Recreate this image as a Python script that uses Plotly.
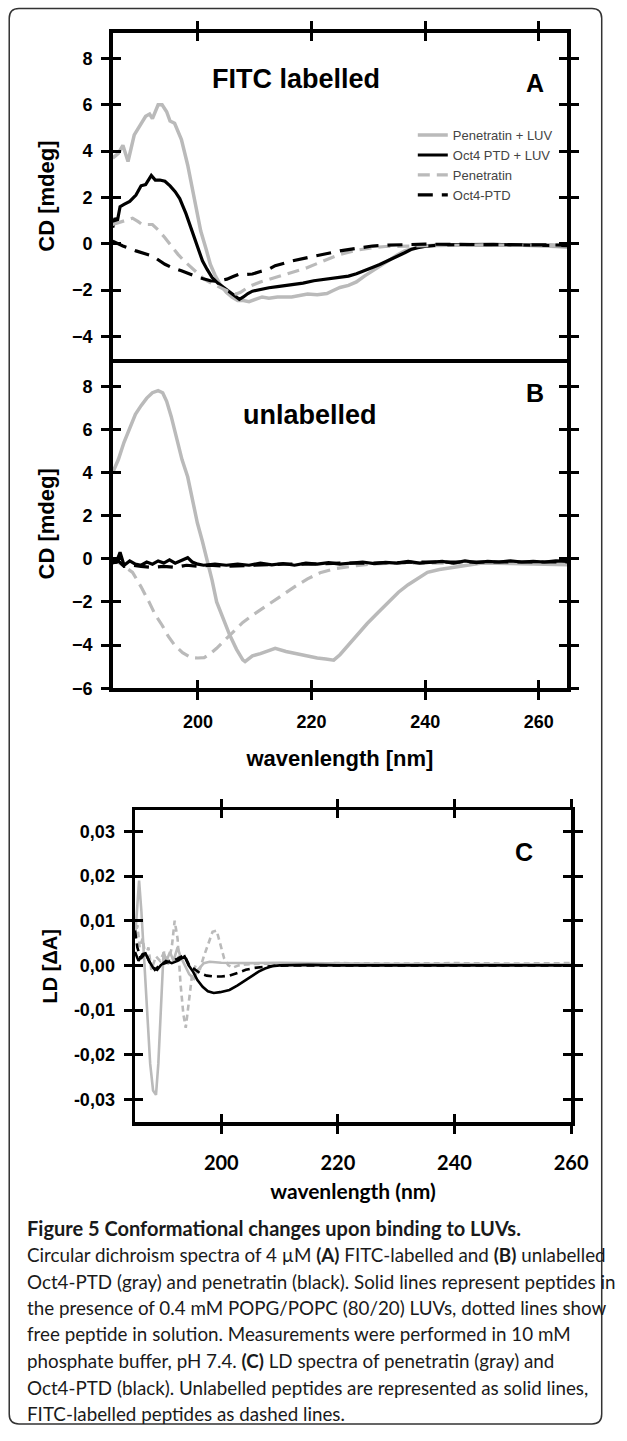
import plotly.graph_objects as go

# ---------------- data ----------------
# Panel A (FITC labelled) CD spectra
a_pen_luv_wl = [185, 186, 186.8, 187.7, 188.8, 189.8, 190.8, 191.5, 192, 193, 193.7, 194.5, 195.1, 195.9, 197.1, 198.2,
                199.4, 200.5, 201.4, 202.2, 203, 203.9, 205, 206, 207, 208, 209, 210, 211.3, 212.5, 214, 216.5, 218,
                219.3, 221, 222.7, 224, 225, 226.5, 227.9, 229.3, 230.7, 232, 233.5, 235, 236.4, 237.5, 238.7, 240,
                242, 245, 248, 252, 256, 260, 263, 265]
a_pen_luv_cd = [3.7, 3.9, 4.25, 3.55, 4.7, 5.1, 5.5, 5.6, 5.4, 6.0, 6.0, 5.7, 5.3, 5.2, 4.5, 3.4,
                2.0, 0.55, -0.2, -0.9, -1.35, -1.75, -2.1, -2.3, -2.45, -2.45, -2.5, -2.4, -2.3, -2.35, -2.3, -2.3, -2.25,
                -2.17, -2.2, -2.15, -2.0, -1.89, -1.8, -1.65, -1.4, -1.17, -0.95, -0.74, -0.5, -0.31, -0.22, -0.15, -0.1,
                -0.06, -0.05, -0.04, -0.05, -0.06, -0.08, -0.12, -0.15]

a_oct_luv_wl = [185, 185.4, 185.8, 186.3, 187, 188, 189.1, 190, 190.8, 191.8, 192.5, 193.3, 194.2, 195.1, 196, 196.8,
                197.9, 198.7, 199.4, 200.1, 200.8, 201.6, 202.5, 203.5, 204.5, 205.5, 206.5, 207.3, 208, 208.8, 209.6,
                210.5, 211.5, 212.5, 214, 215.5, 217, 218.5, 220.4, 222, 223.5, 225, 226.5, 227.9, 229.3, 230.7, 232,
                233.5, 235, 236.4, 237.5, 238.7, 240.4, 243, 247, 252, 256, 260, 265]
a_oct_luv_cd = [0.7, 1.1, 0.95, 1.6, 1.7, 1.83, 2.1, 2.5, 2.55, 2.95, 2.75, 2.75, 2.7, 2.5, 2.25, 1.95,
                1.3, 0.75, 0.26, -0.25, -0.74, -1.1, -1.46, -1.7, -1.89, -2.1, -2.25, -2.4, -2.3, -2.15, -2.05,
                -2.0, -1.95, -1.9, -1.85, -1.8, -1.75, -1.7, -1.6, -1.55, -1.5, -1.46, -1.4, -1.3, -1.15, -1.03, -0.9,
                -0.74, -0.55, -0.39, -0.25, -0.17, -0.1, -0.05, -0.03, -0.03, -0.05, -0.06, -0.08]

a_pen_wl = [185, 186.8, 188.5, 189.5, 190.2, 192, 193, 194.2, 195.3, 196.5, 197.6, 198.8, 200, 201.1, 202.5, 203.9,
            205.3, 206.7, 207.5, 209, 211, 213.6, 216.5, 219.3, 222, 225, 228, 230.7, 233, 236.4, 240, 245, 250, 255,
            260, 265]
a_pen_cd = [0.83, 0.97, 1.1, 0.95, 0.83, 0.83, 0.6, 0.26, -0.1, -0.46, -0.75, -1.03, -1.3, -1.53, -1.72, -1.89,
            -2.05, -2.17, -2.1, -1.85, -1.65, -1.46, -1.25, -1.03, -0.75, -0.46, -0.28, -0.17, -0.12, -0.1, -0.08,
            -0.06, -0.05, -0.06, -0.07, -0.08]

a_oct_wl = [185, 186.8, 189.1, 192, 194.2, 195.6, 197.1, 198.3, 199.4, 200.8, 202.2, 203.5, 205.1, 206.2, 207.3,
            208.5, 209.6, 211, 212.5, 213.6, 216.5, 219.3, 222, 225, 228, 230.7, 233.5, 236.4, 240, 245, 250, 255,
            260, 265]
a_oct_cd = [0.11, -0.1, -0.31, -0.53, -0.89, -1.05, -1.17, -1.3, -1.39, -1.5, -1.6, -1.62, -1.53, -1.42, -1.31,
            -1.33, -1.31, -1.2, -1.1, -0.95, -0.75, -0.6, -0.45, -0.31, -0.2, -0.1, -0.06, -0.03, -0.02, -0.03,
            -0.02, -0.04, -0.05, -0.06]

# Panel B (unlabelled) CD spectra
b_pen_luv_wl = [185, 186, 187, 188, 189, 190, 191, 192, 193, 193.8, 194.5, 195.3, 196.2, 197.2, 198.2, 199.1, 199.9,
                200.8, 201.6, 202.5, 203.3, 204.5, 205.6, 206.8, 207.9, 208.3, 209.6, 211, 213, 213.6, 215.5, 218.2,
                221, 222.5, 223.9, 225, 226.5, 227.9, 229.8, 231.8, 233.5, 235.3, 237, 238.7, 240.4, 242.5, 245,
                247.8, 250, 255, 260, 265]
b_pen_luv_cd = [4.0, 4.6, 5.4, 6.1, 6.7, 7.1, 7.45, 7.7, 7.8, 7.7, 7.3, 6.6, 5.6, 4.6, 3.8, 2.7, 1.67,
                0.8, 0.0, -1.0, -2.0, -2.8, -3.54, -4.2, -4.69, -4.77, -4.5, -4.4, -4.2, -4.15, -4.3, -4.46,
                -4.6, -4.65, -4.7, -4.45, -4.0, -3.54, -3.0, -2.47, -2.0, -1.55, -1.2, -0.9, -0.63, -0.5, -0.4,
                -0.25, -0.2, -0.22, -0.25, -0.28]

b_oct_luv_wl = [185, 185.6, 186.3, 187, 188, 189, 190, 191, 192, 193, 194, 195, 196, 197, 198.2, 199, 200, 201, 203,
                205, 207, 209, 211, 213, 215, 217, 219, 221, 223, 225, 227, 229, 231, 233, 235, 237, 239, 241, 243,
                245, 247, 249, 251, 253, 255, 257, 259, 261, 263, 265]
b_oct_luv_cd = [0.0, -0.2, 0.3, -0.3, -0.1, -0.25, -0.3, -0.15, -0.25, -0.1, -0.2, -0.05, -0.2, -0.1, 0.05, -0.15,
                -0.25, -0.3, -0.25, -0.3, -0.25, -0.3, -0.2, -0.28, -0.22, -0.3, -0.2, -0.25, -0.18, -0.25, -0.2,
                -0.15, -0.22, -0.17, -0.2, -0.12, -0.2, -0.15, -0.12, -0.2, -0.1, -0.18, -0.12, -0.15, -0.1, -0.15,
                -0.12, -0.15, -0.1, -0.12]

b_pen_wl = [185, 186.5, 188.5, 190, 191.4, 192.5, 193.7, 194.8, 195.9, 197.3, 198.8, 200, 201.1, 202.2, 203.3, 204.7,
            206.2, 207.9, 209.6, 211.3, 213, 215.3, 217.3, 219.3, 221.5, 223.9, 226, 227.9, 230.7, 235, 240, 245,
            250, 255, 260, 265]
b_pen_cd = [0.0, -0.25, -0.63, -1.3, -2.0, -2.6, -3.08, -3.6, -4.0, -4.35, -4.58, -4.6, -4.58, -4.4, -4.15, -3.8,
            -3.39, -2.95, -2.62, -2.31, -2.0, -1.6, -1.25, -0.93, -0.65, -0.47, -0.38, -0.32, -0.24, -0.2, -0.2,
            -0.2, -0.2, -0.2, -0.2, -0.2]

b_oct_wl = [185, 186, 187, 188.5, 190, 192, 194, 196, 198, 200, 202, 205, 210, 215, 220, 225, 230, 240, 250, 260, 265]
b_oct_cd = [-0.2, -0.1, -0.35, -0.3, -0.35, -0.4, -0.35, -0.4, -0.3, -0.35, -0.3, -0.35, -0.3, -0.25, -0.25, -0.2,
            -0.2, -0.15, -0.15, -0.15, -0.15]

# Panel C LD spectra
c_pen_unl_wl = [185.2, 185.5, 185.9, 186.3, 186.8, 187.3, 187.8, 188.3, 188.8, 189.2, 189.6, 190.1, 190.6, 191.2,
                191.8, 192.5, 193, 193.7, 194.5, 195.3, 196, 197, 198, 200, 205, 210, 220, 230, 240, 250, 260]
c_pen_unl_ld = [0.006, 0.012, 0.019, 0.012, 0.0, -0.012, -0.022, -0.028, -0.029, -0.022, -0.01, 0.003, 0.001, 0.003,
                0.001, 0.004, 0.002, 0.0, -0.002, -0.003, -0.001, 0.0005, 0.0008, 0.0006, 0.0005, 0.0006, 0.0004,
                0.0003, 0.0003, 0.0002, 0.0002]

c_pen_fitc_wl = [185.2, 185.6, 186, 186.5, 187, 187.5, 188, 188.8, 189.5, 190.2, 190.8, 191.5, 192, 192.5, 193, 193.5,
                 193.9, 194.4, 195, 195.6, 196.3, 197, 197.8, 198.5, 199.2, 199.8, 200.5, 201.2, 202, 203, 205, 210,
                 220, 230, 240, 250, 260]
c_pen_fitc_ld = [0.006, 0.009, 0.004, 0.006, 0.002, 0.004, -0.001, 0.002, 0.001, 0.003, 0.0, 0.004, 0.010, 0.006,
                 -0.004, -0.011, -0.014, -0.009, -0.002, 0.0, -0.001, 0.002, 0.005, 0.0075, 0.0078, 0.005, 0.0015,
                 0.0, -0.0005, 0.0, 0.0003, 0.0004, 0.0005, 0.0004, 0.0005, 0.0004, 0.0005]

c_oct_unl_wl = [185.2, 185.8, 186.5, 187, 187.6, 188.3, 189, 189.6, 190.5, 191.5, 192.5, 193.2, 193.7, 194.4, 195.2,
                195.9, 196.8, 197.7, 198.7, 199.8, 200.6, 201.4, 202.8, 204.2, 205.3, 206.4, 207.5, 208.7, 210, 215,
                220, 230, 240, 250, 260]
c_oct_unl_ld = [0.003, 0.001, 0.0025, 0.0027, 0.001, -0.0005, -0.001, 0.0, 0.001, 0.0005, 0.001, 0.0015, 0.002, 0.0,
                -0.0015, -0.0033, -0.0048, -0.0058, -0.0062, -0.006, -0.0058, -0.0055, -0.0045, -0.0033, -0.0022,
                -0.0014, -0.0007, -0.0002, 0.0, 0.0001, 0.0, 0.0, 0.0, 0.0, 0.0]

c_oct_fitc_wl = [185.2, 185.6, 186.2, 187, 187.8, 188.6, 189.4, 190.5, 191.5, 192.5, 193.2, 193.7, 194.5, 195.5,
                 196.4, 197.5, 198.7, 200, 201.4, 202.8, 204.2, 205.5, 207.3, 209, 212, 220, 230, 240, 250, 260]
c_oct_fitc_ld = [0.0078, 0.004, 0.0015, 0.0027, 0.0005, -0.001, 0.0, 0.0005, 0.001, 0.0015, 0.002, 0.0022, 0.0,
                 -0.001, -0.0018, -0.0023, -0.0025, -0.0025, -0.0023, -0.0017, -0.001, -0.0006, -0.0003, -0.0001,
                 0.0, 0.0, 0.0, 0.0, 0.0, 0.0]

legend_names = ["Penetratin + LUV", "Oct4 PTD + LUV", "Penetratin", "Oct4-PTD"]

ab_xticks = [200, 220, 240, 260]
a_yticks = [-4, -2, 0, 2, 4, 6, 8]
b_yticks = [-6, -4, -2, 0, 2, 4, 6, 8]
c_xticks = [200, 220, 240, 260]
c_yticks = [-0.03, -0.02, -0.01, 0.0, 0.01, 0.02, 0.03]
c_yticktext = ["-0,03", "-0,02", "-0,01", "0,00", "0,01", "0,02", "0,03"]

caption_lines = [
    "<b>Figure 5 Conformational changes upon binding to LUVs.</b>",
    "Circular dichroism spectra of 4 \u00b5M <b>(A)</b> FITC-labelled and <b>(B)</b> unlabelled",
    "Oct4-PTD (gray) and penetratin (black). Solid lines represent peptides in",
    "the presence of 0.4 mM POPG/POPC (80/20) LUVs, dotted lines show",
    "free peptide in solution. Measurements were performed in 10 mM",
    "phosphate buffer, pH 7.4. <b>(C)</b> LD spectra of penetratin (gray) and",
    "Oct4-PTD (black). Unlabelled peptides are represented as solid lines,",
    "FITC-labelled peptides as dashed lines.",
]

# ---------------- styling / geometry ----------------
W, H = 627, 1441
GRAY = "#bababa"
BLACK = "#000000"
ARIAL = "Liberation Sans, Arial, sans-serif"
HUM = "Lato, Open Sans, sans-serif"

def px(x):
    return x / W

def py(y):
    return 1 - y / H

AB_X = [px(116), px(584)]
A_Y = [py(362), py(33)]
B_Y = [py(693), py(362)]
C_X = [px(139), px(588)]
C_Y = [py(1130), py(816)]

fig = go.Figure()

def add(x, y, name, color, dash, width, xa, ya, legend):
    fig.add_trace(go.Scatter(x=x, y=y, mode="lines", name=name, showlegend=legend,
                             line=dict(color=color, dash=dash, width=width, shape="linear"),
                             xaxis=xa, yaxis=ya, hoverinfo="skip"))

# Panel A
add(a_pen_luv_wl, a_pen_luv_cd, legend_names[0], GRAY, "solid", 3.5, "x", "y", True)
add(a_oct_luv_wl, a_oct_luv_cd, legend_names[1], BLACK, "solid", 3.2, "x", "y", True)
add(a_pen_wl, a_pen_cd, legend_names[2], GRAY, "12px,7px", 3.2, "x", "y", True)
add(a_oct_wl, a_oct_cd, legend_names[3], BLACK, "15px,9px", 3.2, "x", "y", True)
# Panel B
add(b_pen_luv_wl, b_pen_luv_cd, legend_names[0], GRAY, "solid", 3.5, "x2", "y2", False)
add(b_pen_wl, b_pen_cd, legend_names[2], GRAY, "12px,7px", 3.2, "x2", "y2", False)
add(b_oct_wl, b_oct_cd, legend_names[3], BLACK, "15px,9px", 3.2, "x2", "y2", False)
add(b_oct_luv_wl, b_oct_luv_cd, legend_names[1], BLACK, "solid", 3.2, "x2", "y2", False)
# Panel C
add(c_pen_unl_wl, c_pen_unl_ld, "Penetratin", GRAY, "solid", 2.6, "x3", "y3", False)
add(c_pen_fitc_wl, c_pen_fitc_ld, "Penetratin FITC", GRAY, "6px,4px", 2.6, "x3", "y3", False)
add(c_oct_unl_wl, c_oct_unl_ld, "Oct4-PTD", BLACK, "solid", 2.6, "x3", "y3", False)
add(c_oct_fitc_wl, c_oct_fitc_ld, "Oct4-PTD FITC", BLACK, "8px,5px", 2.6, "x3", "y3", False)

# dummy traces for the inner-tick overlay axes
for xa, ya in [("x4", "y"), ("x", "y4"), ("x5", "y2"), ("x2", "y5"), ("x6", "y3"), ("x3", "y6")]:
    fig.add_trace(go.Scatter(x=[None], y=[None], xaxis=xa, yaxis=ya, showlegend=False, hoverinfo="skip"))

tickfont = dict(family=ARIAL, size=18, color="#000", weight="bold")
base = dict(showgrid=False, zeroline=False, showline=True, linecolor="#000", linewidth=3.5,
            tickcolor="#000", tickwidth=3, ticklen=8, ticks="outside", tickfont=tickfont,
            ticklabelstandoff=5, fixedrange=True)
inner = dict(showgrid=False, zeroline=False, showline=False, ticks="inside", tickcolor="#000",
             tickwidth=3, ticklen=8, showticklabels=False, fixedrange=True)

AB_RANGE = [185, 265]
A_RANGE = [-5, 9.11]
B_RANGE = [-6, 9.24]
C_XRANGE = [185.2, 260]
C_YRANGE = [-0.0351, 0.0347]

ytitle_font = dict(family=ARIAL, size=22, color="#000", weight="bold")

fig.update_layout(
    width=W, height=H, autosize=False,
    margin=dict(l=0, r=0, t=0, b=0),
    paper_bgcolor="white", plot_bgcolor="white",
    showlegend=True,
    legend=dict(x=px(425), y=py(121), xanchor="left", yanchor="top", bgcolor="rgba(0,0,0,0)",
                font=dict(family=ARIAL, size=13, color="#444"), tracegroupgap=0, itemwidth=30),
    # Panel A
    xaxis=dict(base, domain=AB_X, range=AB_RANGE, anchor="y", side="top", mirror=True,
               tickmode="array", tickvals=ab_xticks, showticklabels=False),
    yaxis=dict(base, domain=A_Y, range=A_RANGE, anchor="x", mirror="ticks",
               tickmode="array", tickvals=a_yticks,
               title=dict(text="CD [mdeg]", font=ytitle_font, standoff=12)),
    xaxis4=dict(inner, overlaying="x", anchor="y", side="top", range=AB_RANGE,
                tickmode="array", tickvals=ab_xticks),
    yaxis4=dict(inner, overlaying="y", anchor="x", range=A_RANGE, mirror="ticks",
                tickmode="array", tickvals=a_yticks),
    # Panel B
    xaxis2=dict(base, domain=AB_X, range=AB_RANGE, anchor="y2", side="bottom", mirror=False,
                tickmode="array", tickvals=ab_xticks, ticklabelstandoff=7,
                title=dict(text="wavenlength [nm]", font=ytitle_font, standoff=20)),
    yaxis2=dict(base, domain=B_Y, range=B_RANGE, anchor="x2", mirror="ticks",
                tickmode="array", tickvals=b_yticks,
                title=dict(text="CD [mdeg]", font=ytitle_font, standoff=12)),
    xaxis5=dict(inner, overlaying="x2", anchor="y2", side="bottom", range=AB_RANGE,
                tickmode="array", tickvals=ab_xticks),
    yaxis5=dict(inner, overlaying="y2", anchor="x2", range=B_RANGE, mirror="ticks",
                tickmode="array", tickvals=b_yticks),
    # Panel C
    xaxis3=dict(base, domain=C_X, range=C_XRANGE, anchor="y3", side="bottom", mirror="ticks",
                tickmode="array", tickvals=c_xticks, ticklabelstandoff=12,
                tickfont=dict(family=HUM, size=20, color="#000", weight="bold"),
                title=dict(text="wavenlength (nm)", font=dict(family=HUM, size=21, color="#000", weight="bold"),
                           standoff=12)),
    yaxis3=dict(base, domain=C_Y, range=C_YRANGE, anchor="x3", mirror="ticks",
                tickmode="array", tickvals=c_yticks, ticktext=c_yticktext,
                title=dict(text="LD [\u0394A]", font=dict(family=ARIAL, size=20, color="#000", weight="bold"),
                           standoff=12)),
    xaxis6=dict(inner, overlaying="x3", anchor="y3", side="bottom", range=C_XRANGE, mirror="ticks",
                tickmode="array", tickvals=c_xticks),
    yaxis6=dict(inner, overlaying="y3", anchor="x3", range=C_YRANGE, mirror="ticks",
                tickmode="array", tickvals=c_yticks),
)

# panel labels
ann = [
    dict(text="FITC labelled", x=px(216), y=py(80), xanchor="left", yanchor="middle",
         font=dict(family=ARIAL, size=27, color="#000", weight="bold")),
    dict(text="A", x=px(551), y=py(84), xanchor="center", yanchor="middle",
         font=dict(family=ARIAL, size=25, color="#000", weight="bold")),
    dict(text="unlabelled", x=px(248), y=py(418), xanchor="left", yanchor="middle",
         font=dict(family=ARIAL, size=27, color="#000", weight="bold")),
    dict(text="B", x=px(551), y=py(396), xanchor="center", yanchor="middle",
         font=dict(family=ARIAL, size=25, color="#000", weight="bold")),
    dict(text="C", x=px(540), y=py(858), xanchor="center", yanchor="middle",
         font=dict(family=ARIAL, size=25, color="#000", weight="bold")),
]
cap_y = [1237, 1263, 1290, 1317, 1343, 1370, 1397, 1423]
for i, line in enumerate(caption_lines):
    ann.append(dict(text=line, x=px(26), y=py(cap_y[i]), xanchor="left", yanchor="middle",
                    font=dict(family=HUM, size=18.8 if i else 20, color="#1a1a1a")))
for a in ann:
    a.update(xref="paper", yref="paper", showarrow=False)
fig.update_layout(annotations=ann)

# rounded figure border
x0, x1, y0, y1 = px(9.5), px(619.5), py(1434), py(8.5)
rx, ry = px(10), 10 / H
path = (f"M {x0+rx},{y1} L {x1-rx},{y1} Q {x1},{y1} {x1},{y1-ry} L {x1},{y0+ry} Q {x1},{y0} {x1-rx},{y0} "
        f"L {x0+rx},{y0} Q {x0},{y0} {x0},{y0+ry} L {x0},{y1-ry} Q {x0},{y1} {x0+rx},{y1} Z")
fig.add_shape(type="path", path=path, xref="paper", yref="paper", line=dict(color="#333", width=1.5),
              fillcolor="rgba(0,0,0,0)", layer="below")

fig.write_html("out.html", config={"displayModeBar": False, "staticPlot": True},
               post_script="document.body.style.margin='0';document.body.style.overflow='hidden';")
